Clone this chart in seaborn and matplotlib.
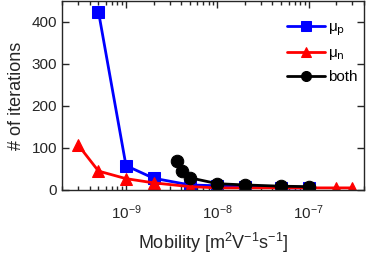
import pandas as pd
import seaborn as sns
import matplotlib.pyplot as plt
from matplotlib.ticker import LogLocator, NullFormatter

# dados
mob_p = [5e-10, 1e-9, 2e-9, 5e-9, 1e-8, 2e-8, 5e-8, 1e-7]
iter_p = [424, 58, 28, 12, 10, 8, 5, 5]

mob_n = [3e-10, 5e-10, 1e-9, 2e-9, 5e-9, 1e-8, 2e-8, 5e-8, 1e-7, 2e-7, 3e-7]
iter_n = [107, 45, 27, 17, 8, 5, 5, 5, 5, 5, 5]

mob_both = [3.6e-9, 4.1e-9, 5e-9, 1e-8, 2e-8, 5e-8, 1e-7]
iter_both = [69, 45, 29, 15, 12, 9, 8]

labels = [r'$\mu_\mathrm{p}$', r'$\mu_\mathrm{n}$', 'both']
cores = ['#0000ff', '#ff0000', '#000000']
marcadores = ['s', '^', 'o']

sns.set_style('ticks')
plt.rcParams['font.family'] = ['Liberation Sans', 'DejaVu Sans']
plt.rcParams['mathtext.default'] = 'regular'

fig = plt.figure(figsize=(3.74, 2.54), dpi=100)
ax = fig.add_axes([0.166, 0.252, 0.807, 0.745])

series = [(mob_p, iter_p), (mob_n, iter_n), (mob_both, iter_both)]
for (x, y), lab, cor, mk in zip(series, labels, cores, marcadores):
    df = pd.DataFrame({'mob': x, 'it': y})
    sns.lineplot(data=df, x='mob', y='it', ax=ax, color=cor, marker=mk,
                 markersize=9, linewidth=2, label=lab,
                 markeredgecolor=cor, sort=False)

ax.set_xscale('log')
ax.set_xlim(2e-10, 4e-7)
ax.set_ylim(0, 450)
ax.set_yticks([0, 100, 200, 300, 400])
ax.set_xticks([1e-9, 1e-8, 1e-7])
ax.xaxis.set_minor_locator(LogLocator(base=10, subs=range(2, 10)))
ax.xaxis.set_minor_formatter(NullFormatter())

cinza = '#262626'
ax.tick_params(axis='both', which='both', direction='in', top=True, right=True,
               colors=cinza, labelcolor=cinza, labelsize=11, width=1)
ax.tick_params(which='major', length=5)
ax.tick_params(which='minor', length=3)
ax.tick_params(axis='x', pad=10)
for s in ax.spines.values():
    s.set_visible(True)
    s.set_color(cinza)
    s.set_linewidth(1)

ax.set_xlabel('Mobility [m$^2$V$^{-1}$s$^{-1}$]', fontsize=13, color=cinza,
              labelpad=6)
ax.set_ylabel('# of iterations', fontsize=13, color=cinza, labelpad=5)

leg = ax.legend(loc='upper right', bbox_to_anchor=(1.0, 0.93), frameon=False,
                fontsize=11, handlelength=2.5, handletextpad=0.2,
                labelspacing=0.55, borderaxespad=0, markerscale=0.8)
for t in leg.get_texts():
    t.set_color('#000000')

fig.savefig('out.png', dpi=100)
